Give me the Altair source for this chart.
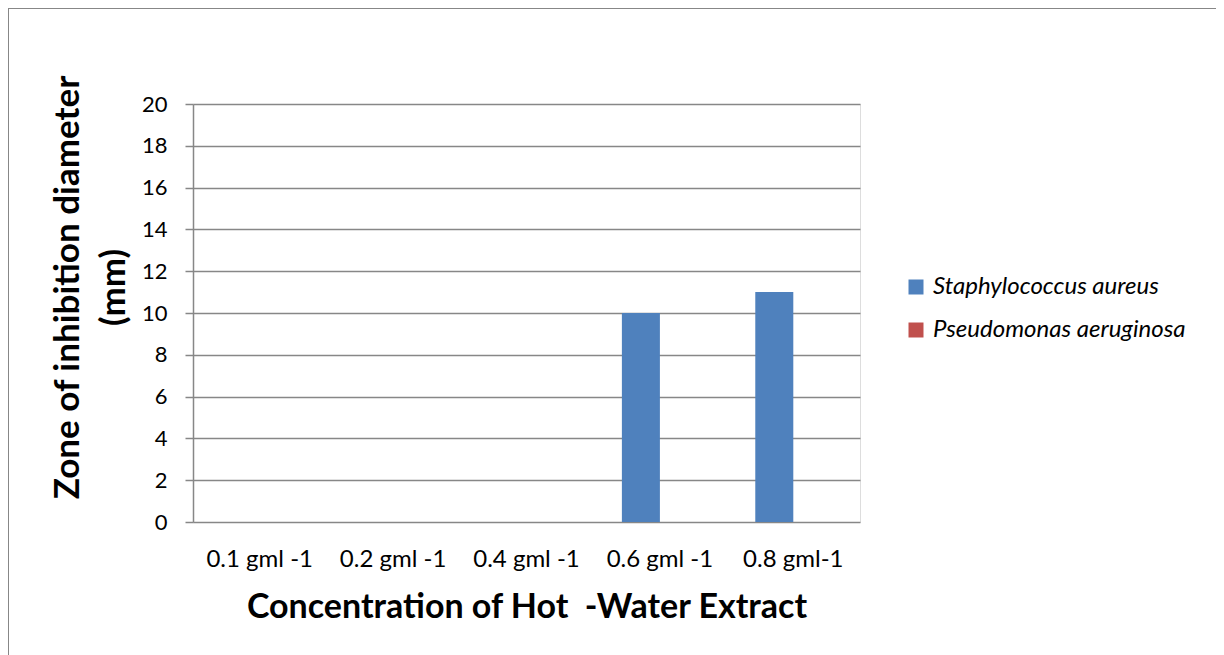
import altair as alt
import pandas as pd

categories = ["0.1 gml -1", "0.2 gml -1", "0.4 gml -1", "0.6 gml -1", "0.8 gml-1"]
series_names = ["Staphylococcus aureus", "Pseudomonas aeruginosa"]
staph_values = [0, 0, 0, 10, 11]
pseudo_values = [0, 0, 0, 0, 0]
series_colors = ["#4F81BD", "#C0504D"]
y_ticks = [0, 2, 4, 6, 8, 10, 12, 14, 16, 18, 20]

rows = []
for i, c in enumerate(categories):
    rows.append({"conc": c, "organism": series_names[0], "value": staph_values[i]})
    rows.append({"conc": c, "organism": series_names[1], "value": pseudo_values[i]})
df = pd.DataFrame(rows)

FONT = "Lato"
GRID = "#878787"

bars = alt.Chart(df).mark_bar().encode(
    x=alt.X("conc:N", sort=categories,
            scale=alt.Scale(paddingInner=0.43, paddingOuter=0.215),
            axis=alt.Axis(title="Concentration of Hot \u00a0-Water Extract",
                          labelAngle=0, labelFontSize=24, labelFont=FONT, labelColor="#000000",
                          labelPadding=25, ticks=False, domain=False,
                          titleFont=FONT, titleFontSize=34, titleFontWeight="bold",
                          titleColor="#000000", titlePadding=19)),
    xOffset=alt.XOffset("organism:N", sort=series_names, scale=alt.Scale(paddingInner=0, paddingOuter=0)),
    y=alt.Y("value:Q", scale=alt.Scale(domain=[0, 20], nice=False),
            axis=alt.Axis(values=y_ticks, title=["Zone of inhibition diameter", "(mm)"],
                          labelFontSize=22, labelFont=FONT, labelColor="#000000",
                          labelPadding=18, tickSize=8, tickColor=GRID, tickWidth=1.5,
                          domainColor=GRID, domainWidth=1.5,
                          grid=True, gridColor=GRID, gridWidth=1.5,
                          titleFont=FONT, titleFontSize=35, titleFontWeight="bold",
                          titleColor="#000000", titleAngle=-90, titleX=-115, titleY=183,
                          titleAlign="center", titleBaseline="alphabetic", titleLineHeight=46)),
    color=alt.Color("organism:N", sort=series_names,
                    scale=alt.Scale(domain=series_names, range=series_colors),
                    legend=alt.Legend(title=None, orient="none", legendX=711, legendY=171,
                                      symbolType="square", symbolSize=225, symbolStrokeWidth=0,
                                      labelFontSize=24, labelFont=FONT, labelFontStyle="italic",
                                      labelColor="#000000", rowPadding=19, labelOffset=5,
                                      labelLimit=400)),
)

frame_top = alt.Chart(df).mark_rule(color=GRID, strokeWidth=1.5).encode(
    x=alt.value(-185), x2=alt.value(1023), y=alt.value(-96))
frame_left = alt.Chart(df).mark_rule(color=GRID, strokeWidth=1.5).encode(
    x=alt.value(-185), y=alt.value(-96), y2=alt.value(551))

chart = alt.layer(frame_top, frame_left, bars).properties(
    width=667, height=418,
    padding={"left": 185, "top": 96, "right": 356, "bottom": 133},
    autosize=alt.AutoSizeParams(type="none"),
).configure_view(stroke=None).configure(background="white")

chart.save("out.html", embed_options={"renderer": "svg", "actions": False})
